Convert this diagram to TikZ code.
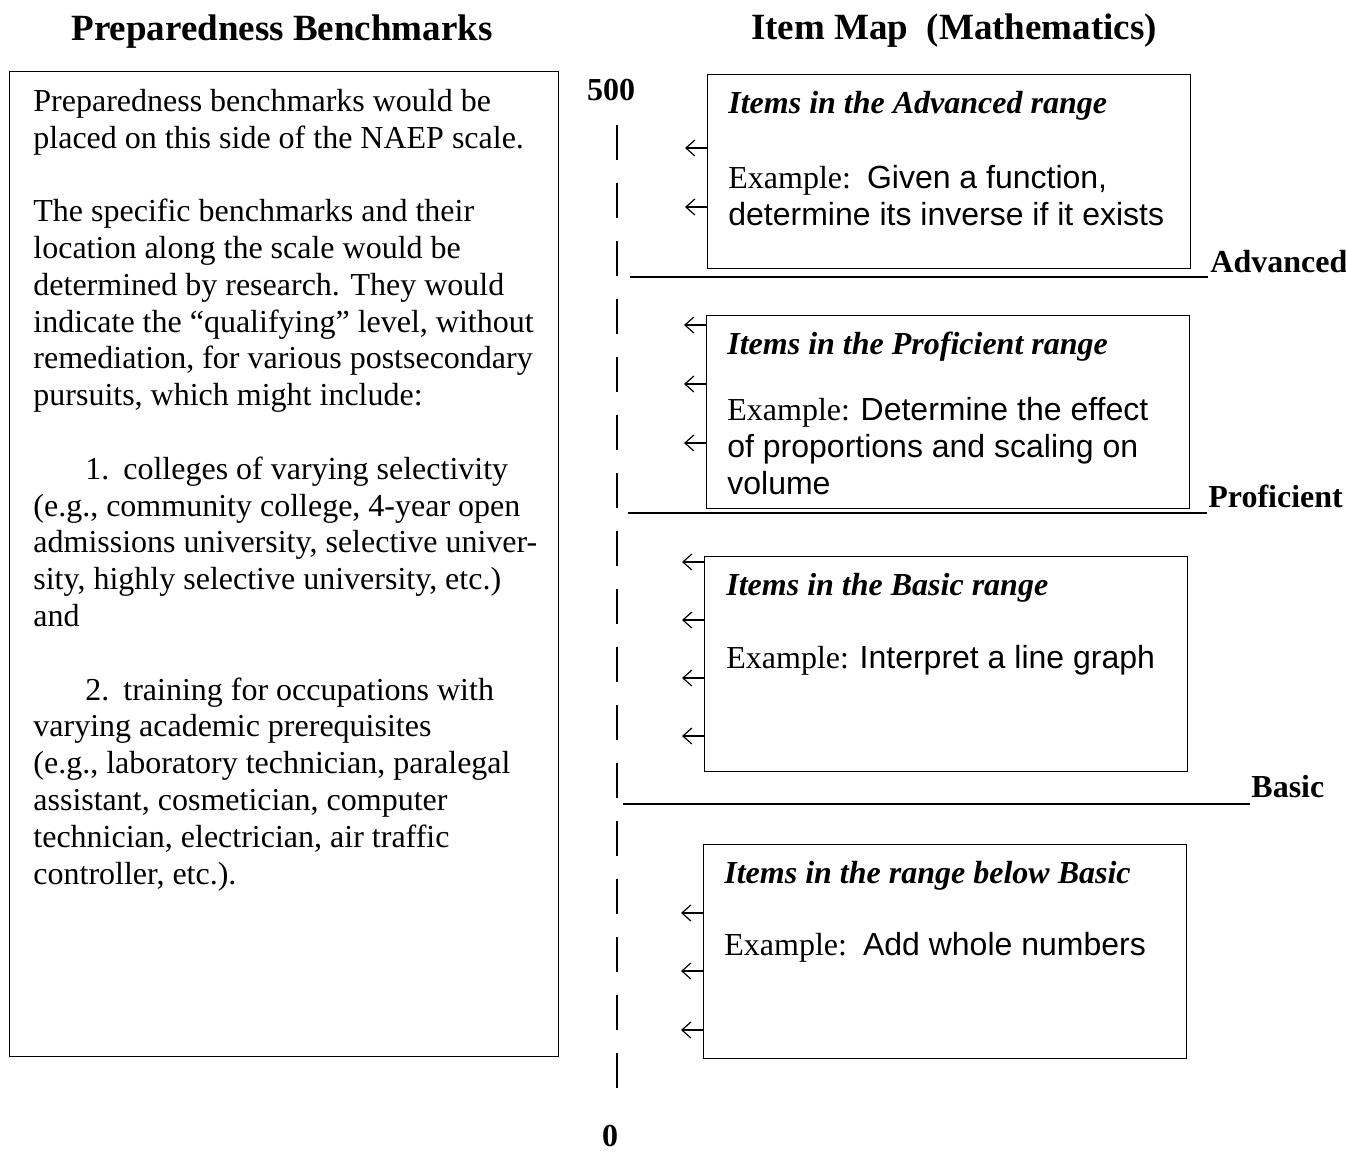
\documentclass[tikz,border=0pt]{standalone}
\usepackage{fontspec}
\setmainfont{Liberation Serif}
\newfontfamily\sansex{Liberation Sans}
\usetikzlibrary{arrows.meta}

\tikzset{
  heading/.style={font=\fontsize{18.5}{22}\selectfont\bfseries, inner sep=0pt, anchor=base},
  bodytext/.style={font=\fontsize{16}{18.4}\selectfont, inner sep=0pt, anchor=base west, align=left},
  framebox/.style={draw, line width=0.6pt, anchor=north west, inner sep=0pt},
  itemtitle/.style={font=\fontsize{16}{18.5}\selectfont\bfseries\itshape, inner sep=0pt, anchor=base west},
  example/.style={font=\fontsize{16}{18.5}\selectfont, inner sep=0pt, anchor=base west, align=left},
  cutline/.style={line width=1.4pt},
  cutlabel/.style={font=\fontsize{16}{18}\selectfont\bfseries, inner sep=0pt, anchor=base west},
  itemarrow/.style={-{Straight Barb[length=4.5pt,width=8pt]}, line width=0.6pt},
  axis/.style={line width=0.55pt, dash pattern=on 17.5pt off 11.5pt},
}

\begin{document}
\begin{tikzpicture}[x=0.5pt, y=-0.5pt]
    \useasboundingbox (0,0) rectangle (1346,1153);

    \node[heading] (lefthead) at (282,40) {Preparedness Benchmarks};
    \node[heading] (righthead) at (954,39) {Item Map\ \ (Mathematics)};

    \node[framebox, minimum width=274.5pt, minimum height=492.5pt] (bench) at (9,71) {};
    \node[bodytext] (benchtext) at (33,884) {Preparedness benchmarks would be\\
      placed on this side of the NAEP scale.\\[18.4pt]
      The specific benchmarks and their\\
      location along the scale would be\\
      determined by research.  They would\\
      indicate the “qualifying” level, without\\
      remediation, for various postsecondary\\
      pursuits, which might include:\\[18.4pt]
      \hspace*{26pt}1.\hspace{7pt}colleges of varying selectivity\\
      (e.g., community college, 4-year open\\
      admissions university, selective univer-\\
      sity, highly selective university, etc.)\\
      and\\[18.4pt]
      \hspace*{26pt}2.\hspace{7pt}training for occupations with\\
      varying academic prerequisites\\
      (e.g., laboratory technician, paralegal\\
      assistant, cosmetician, computer\\
      technician, electrician, air traffic\\
      controller, etc.).};

    \node[cutlabel, anchor=base] (top) at (611,100) {500};
    \node[cutlabel, anchor=base] (bottom) at (610,1146) {0};
    \coordinate (axtop) at (617,125);
    \coordinate (axbot) at (617,1100);
    \draw[axis] (axtop) -- (axbot);

    \node[framebox, minimum width=241.5pt, minimum height=97pt] (adv) at (707,74) {};
    \node[itemtitle] (advtitle) at (728,113) {Items in the Advanced range};
    \node[example] (advex) at (728,225) {Example:\ \ {\sansex Given a function,}\\
      {\sansex determine its inverse if it exists}};

    \node[framebox, minimum width=241.5pt, minimum height=96.5pt] (prof) at (706,315) {};
    \node[itemtitle] (proftitle) at (727,354) {Items in the Proficient range};
    \node[example] (profex) at (727,494) {Example: {\sansex Determine the effect}\\
      {\sansex of proportions and scaling on}\\
      {\sansex volume}};

    \node[framebox, minimum width=241.5pt, minimum height=107.5pt] (basic) at (704,556) {};
    \node[itemtitle] (basictitle) at (726,595) {Items in the Basic range};
    \node[example] (basicex) at (726,668) {Example: {\sansex Interpret a line graph}};

    \node[framebox, minimum width=241.5pt, minimum height=107pt] (below) at (703,844) {};
    \node[itemtitle] (belowtitle) at (724,883) {Items in the range below Basic};
    \node[example] (belowex) at (724,955) {Example:\ \ {\sansex Add whole numbers}};

    \foreach \y in {148, 207} {
      \draw[itemarrow] (707,\y) -- (685,\y);
    }
    \foreach \y in {325, 384, 443} {
      \draw[itemarrow] (706,\y) -- (684,\y);
    }
    \foreach \y in {562, 620, 678, 736} {
      \draw[itemarrow] (704,\y) -- (682,\y);
    }
    \foreach \y in {913, 971, 1030} {
      \draw[itemarrow] (703,\y) -- (681,\y);
    }

    \draw[cutline] (630,277) -- (1208,277);
    \node[cutlabel] (advcut) at (1210,272) {Advanced};
    \draw[cutline] (628,513) -- (1207,513);
    \node[cutlabel] (profcut) at (1208,507) {Proficient};
    \draw[cutline] (623,804) -- (1250,804);
    \node[cutlabel] (basiccut) at (1251,797) {Basic};
  \end{tikzpicture}
\end{document}
